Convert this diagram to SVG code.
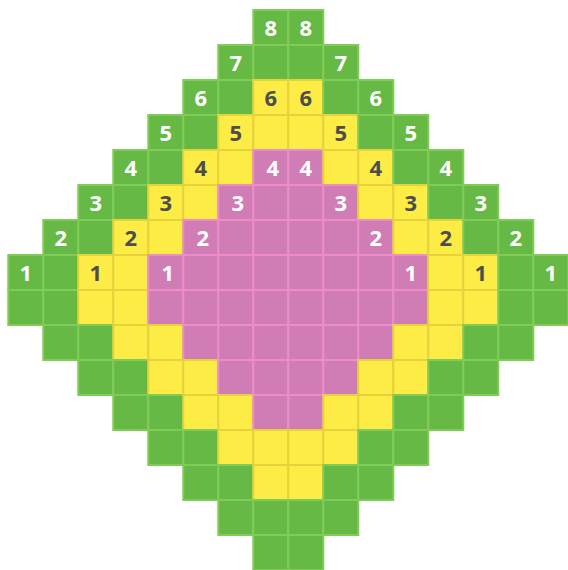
<svg xmlns="http://www.w3.org/2000/svg" width="568" height="570" viewBox="0 0 568 570">
<style>
rect{width:35px;height:35px;stroke-width:2}
.g{fill:#67b946;stroke:#80cc56}
.y{fill:#fdeb46;stroke:#e6d33c}
.p{fill:#d17db5;stroke:#ee8cca}
text{font-family:"Open Sans","Liberation Sans",sans-serif;font-weight:bold;font-size:22px;text-anchor:middle}
.w{fill:#ffffff}
.d{fill:#4d4d4d}
</style>
<rect width="568" height="570" fill="#ffffff" stroke="none" style="width:568px;height:570px"/>
<g transform="translate(8.3,10)">
<g id="cells">
<g id="row0"><rect class="g" x="245" y="0"/><rect class="g" x="280" y="0"/></g>
<g id="row1"><rect class="g" x="210" y="35"/><rect class="g" x="245" y="35"/><rect class="g" x="280" y="35"/><rect class="g" x="315" y="35"/></g>
<g id="row2"><rect class="g" x="175" y="70"/><rect class="g" x="210" y="70"/><rect class="y" x="245" y="70"/><rect class="y" x="280" y="70"/><rect class="g" x="315" y="70"/><rect class="g" x="350" y="70"/></g>
<g id="row3"><rect class="g" x="140" y="105"/><rect class="g" x="175" y="105"/><rect class="y" x="210" y="105"/><rect class="y" x="245" y="105"/><rect class="y" x="280" y="105"/><rect class="y" x="315" y="105"/><rect class="g" x="350" y="105"/><rect class="g" x="385" y="105"/></g>
<g id="row4"><rect class="g" x="105" y="140"/><rect class="g" x="140" y="140"/><rect class="y" x="175" y="140"/><rect class="y" x="210" y="140"/><rect class="p" x="245" y="140"/><rect class="p" x="280" y="140"/><rect class="y" x="315" y="140"/><rect class="y" x="350" y="140"/><rect class="g" x="385" y="140"/><rect class="g" x="420" y="140"/></g>
<g id="row5"><rect class="g" x="70" y="175"/><rect class="g" x="105" y="175"/><rect class="y" x="140" y="175"/><rect class="y" x="175" y="175"/><rect class="p" x="210" y="175"/><rect class="p" x="245" y="175"/><rect class="p" x="280" y="175"/><rect class="p" x="315" y="175"/><rect class="y" x="350" y="175"/><rect class="y" x="385" y="175"/><rect class="g" x="420" y="175"/><rect class="g" x="455" y="175"/></g>
<g id="row6"><rect class="g" x="35" y="210"/><rect class="g" x="70" y="210"/><rect class="y" x="105" y="210"/><rect class="y" x="140" y="210"/><rect class="p" x="175" y="210"/><rect class="p" x="210" y="210"/><rect class="p" x="245" y="210"/><rect class="p" x="280" y="210"/><rect class="p" x="315" y="210"/><rect class="p" x="350" y="210"/><rect class="y" x="385" y="210"/><rect class="y" x="420" y="210"/><rect class="g" x="455" y="210"/><rect class="g" x="490" y="210"/></g>
<g id="row7"><rect class="g" x="0" y="245"/><rect class="g" x="35" y="245"/><rect class="y" x="70" y="245"/><rect class="y" x="105" y="245"/><rect class="p" x="140" y="245"/><rect class="p" x="175" y="245"/><rect class="p" x="210" y="245"/><rect class="p" x="245" y="245"/><rect class="p" x="280" y="245"/><rect class="p" x="315" y="245"/><rect class="p" x="350" y="245"/><rect class="p" x="385" y="245"/><rect class="y" x="420" y="245"/><rect class="y" x="455" y="245"/><rect class="g" x="490" y="245"/><rect class="g" x="525" y="245"/></g>
<g id="row8"><rect class="g" x="0" y="280"/><rect class="g" x="35" y="280"/><rect class="y" x="70" y="280"/><rect class="y" x="105" y="280"/><rect class="p" x="140" y="280"/><rect class="p" x="175" y="280"/><rect class="p" x="210" y="280"/><rect class="p" x="245" y="280"/><rect class="p" x="280" y="280"/><rect class="p" x="315" y="280"/><rect class="p" x="350" y="280"/><rect class="p" x="385" y="280"/><rect class="y" x="420" y="280"/><rect class="y" x="455" y="280"/><rect class="g" x="490" y="280"/><rect class="g" x="525" y="280"/></g>
<g id="row9"><rect class="g" x="35" y="315"/><rect class="g" x="70" y="315"/><rect class="y" x="105" y="315"/><rect class="y" x="140" y="315"/><rect class="p" x="175" y="315"/><rect class="p" x="210" y="315"/><rect class="p" x="245" y="315"/><rect class="p" x="280" y="315"/><rect class="p" x="315" y="315"/><rect class="p" x="350" y="315"/><rect class="y" x="385" y="315"/><rect class="y" x="420" y="315"/><rect class="g" x="455" y="315"/><rect class="g" x="490" y="315"/></g>
<g id="row10"><rect class="g" x="70" y="350"/><rect class="g" x="105" y="350"/><rect class="y" x="140" y="350"/><rect class="y" x="175" y="350"/><rect class="p" x="210" y="350"/><rect class="p" x="245" y="350"/><rect class="p" x="280" y="350"/><rect class="p" x="315" y="350"/><rect class="y" x="350" y="350"/><rect class="y" x="385" y="350"/><rect class="g" x="420" y="350"/><rect class="g" x="455" y="350"/></g>
<g id="row11"><rect class="g" x="105" y="385"/><rect class="g" x="140" y="385"/><rect class="y" x="175" y="385"/><rect class="y" x="210" y="385"/><rect class="p" x="245" y="385"/><rect class="p" x="280" y="385"/><rect class="y" x="315" y="385"/><rect class="y" x="350" y="385"/><rect class="g" x="385" y="385"/><rect class="g" x="420" y="385"/></g>
<g id="row12"><rect class="g" x="140" y="420"/><rect class="g" x="175" y="420"/><rect class="y" x="210" y="420"/><rect class="y" x="245" y="420"/><rect class="y" x="280" y="420"/><rect class="y" x="315" y="420"/><rect class="g" x="350" y="420"/><rect class="g" x="385" y="420"/></g>
<g id="row13"><rect class="g" x="175" y="455"/><rect class="g" x="210" y="455"/><rect class="y" x="245" y="455"/><rect class="y" x="280" y="455"/><rect class="g" x="315" y="455"/><rect class="g" x="350" y="455"/></g>
<g id="row14"><rect class="g" x="210" y="490"/><rect class="g" x="245" y="490"/><rect class="g" x="280" y="490"/><rect class="g" x="315" y="490"/></g>
<g id="row15"><rect class="g" x="245" y="525"/><rect class="g" x="280" y="525"/></g>
</g>
<g id="labels">
<text class="w" x="262.5" y="25.5">8</text><text class="w" x="297.5" y="25.5">8</text>
<text class="w" x="227.5" y="60.5">7</text><text class="w" x="332.5" y="60.5">7</text>
<text class="w" x="192.5" y="95.5">6</text><text class="d" x="262.5" y="95.5">6</text><text class="d" x="297.5" y="95.5">6</text><text class="w" x="367.5" y="95.5">6</text>
<text class="w" x="157.5" y="130.5">5</text><text class="d" x="227.5" y="130.5">5</text><text class="d" x="332.5" y="130.5">5</text><text class="w" x="402.5" y="130.5">5</text>
<text class="w" x="122.5" y="165.5">4</text><text class="d" x="192.5" y="165.5">4</text><text class="w" x="264.5" y="165.5">4</text><text class="w" x="297.5" y="165.5">4</text><text class="d" x="367.5" y="165.5">4</text><text class="w" x="437.5" y="165.5">4</text>
<text class="w" x="87.5" y="200.5">3</text><text class="d" x="157.5" y="200.5">3</text><text class="w" x="229.5" y="200.5">3</text><text class="w" x="332.5" y="200.5">3</text><text class="d" x="402.5" y="200.5">3</text><text class="w" x="472.5" y="200.5">3</text>
<text class="w" x="52.5" y="235.5">2</text><text class="d" x="122.5" y="235.5">2</text><text class="w" x="194.5" y="235.5">2</text><text class="w" x="367.5" y="235.5">2</text><text class="d" x="437.5" y="235.5">2</text><text class="w" x="507.5" y="235.5">2</text>
<text class="w" x="17.5" y="270.5">1</text><text class="d" x="87.5" y="270.5">1</text><text class="w" x="159.5" y="270.5">1</text><text class="w" x="402.5" y="270.5">1</text><text class="d" x="472.5" y="270.5">1</text><text class="w" x="542.5" y="270.5">1</text>
</g>
</g>
</svg>
